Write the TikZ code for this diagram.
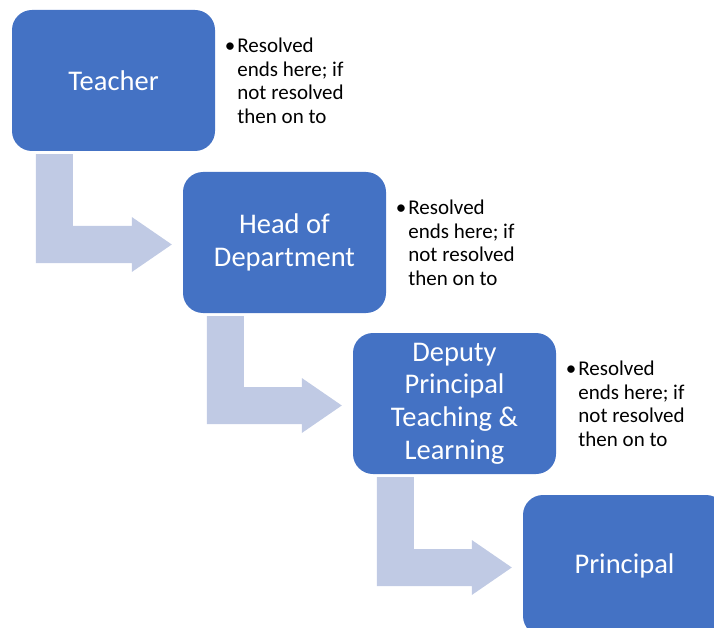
\documentclass[tikz,border=0pt]{standalone}
\usepackage{fontspec}
\setmainfont{Carlito}
\usepackage{xcolor}
\definecolor{boxblue}{HTML}{4472C4}
\definecolor{arrowblue}{RGB}{192,202,228}
\usetikzlibrary{positioning,calc}

\tikzset{
  stage/.style={rectangle,rounded corners=20pt,fill=boxblue,text=white,
    minimum width=203pt,minimum height=141pt,inner sep=0pt,align=center,
    font=\fontsize{28.5}{32.7}\selectfont},
  note/.style={anchor=north west,inner sep=0pt,align=left,
    font=\fontsize{21}{23.7}\selectfont}
}

\begin{document}
\begin{tikzpicture}[x=1pt,y=1pt]
    \useasboundingbox (0,0) rectangle (714,-628);

    % the four stages
    \node[stage] (teacher) at (113.5,-80.5) {Teacher};
    \node[stage] (hod) at (284.5,-242.5) {Head of\\Department};
    \node[stage] (deputy) at (454.5,-403.5) {Deputy\\Principal\\Teaching \&\\Learning};
    \node[stage] (principal) at (624.5,-565.5) {Principal};

    % notes beside the stages
    \node[note] (noteteacher) at ($(teacher.north east)+(22pt,-28pt)$) {\llap{•\hspace{2pt}}Resolved\\ends here; if\\not resolved\\then on to};
    \node[note] (notehod) at ($(hod.north east)+(22pt,-28pt)$) {\llap{•\hspace{2pt}}Resolved\\ends here; if\\not resolved\\then on to};
    \node[note] (notedeputy) at ($(deputy.north east)+(22pt,-28pt)$) {\llap{•\hspace{2pt}}Resolved\\ends here; if\\not resolved\\then on to};

    % bent arrows from one stage to the next
    \foreach \from/\to in {teacher/hod, hod/deputy, deputy/principal}
        \fill[arrowblue] let \p1=(\from.south west), \p2=($(\to.west)+(-11pt,-2pt)$) in
            (\x1+24pt,\y1-3pt) -- (\x1+61pt,\y1-3pt) -- (\x1+61pt,\y2+18.5pt)
            -- (\x2-40pt,\y2+18.5pt) -- (\x2-40pt,\y2+27.5pt) -- (\p2)
            -- (\x2-40pt,\y2-27.5pt) -- (\x2-40pt,\y2-18.5pt)
            -- (\x1+24pt,\y2-18.5pt) -- cycle;
\end{tikzpicture}
\end{document}
